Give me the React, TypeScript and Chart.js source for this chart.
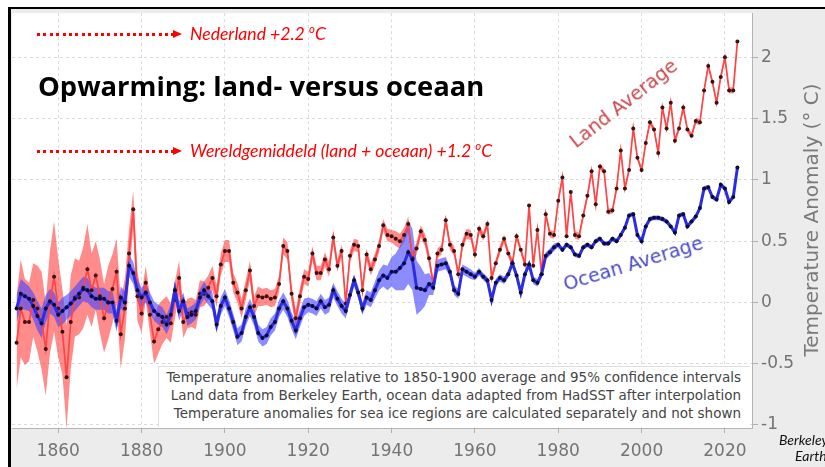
import React, { useEffect, useRef } from "react";
import { Chart, registerables } from "chart.js";

Chart.register(...registerables);

const START_YEAR = 1850;

// Land average anomaly (°C, relative to 1850-1900), 1850..2023
const landAverage = [
  -0.33, -0.05, -0.16, -0.16, 0.02, -0.05, -0.15, -0.38, 0.0, 0.21,
  -0.05, -0.24, -0.61, -0.16, 0.04, 0.04, 0.12, 0.27, 0.1, 0.22,
  0.05, -0.13, 0.0, 0.11, 0.25, -0.26, -0.05, 0.4, 0.76, 0.05,
  -0.09, 0.16, -0.1, -0.32, -0.22, -0.16, -0.12, -0.17, 0.02, 0.2,
  -0.16, -0.09, -0.08, -0.1, 0.07, 0.07, 0.12, 0.2, 0.05, 0.31,
  0.42, 0.42, 0.16, 0.08, -0.05, 0.1, 0.26, -0.03, 0.05, 0.04,
  0.05, 0.03, 0.04, 0.15, 0.46, 0.42, 0.07, -0.13, 0.05, 0.21,
  0.19, 0.4, 0.24, 0.24, 0.35, 0.27, 0.53, 0.3, 0.42, -0.01,
  0.38, 0.47, 0.46, 0.1, 0.39, 0.27, 0.35, 0.46, 0.63, 0.55,
  0.54, 0.52, 0.5, 0.55, 0.64, 0.36, 0.44, 0.58, 0.51, 0.36,
  0.15, 0.4, 0.43, 0.67, 0.47, 0.42, 0.23, 0.47, 0.56, 0.55,
  0.39, 0.6, 0.54, 0.64, 0.2, 0.32, 0.43, 0.52, 0.4, 0.32,
  0.54, 0.43, 0.31, 0.79, 0.3, 0.59, 0.23, 0.72, 0.56, 0.55,
  0.83, 1.02, 0.54, 0.9, 0.55, 0.54, 0.71, 0.87, 1.07, 0.8,
  1.11, 1.07, 0.74, 0.75, 0.93, 1.24, 0.93, 1.08, 1.42, 1.18,
  1.08, 1.3, 1.47, 1.41, 1.22, 1.59, 1.42, 1.63, 1.32, 1.42,
  1.59, 1.41, 1.36, 1.48, 1.47, 1.73, 1.93, 1.8, 1.63, 1.84,
  2.0, 1.73, 1.73, 2.13,
];

// Half width of the 95% interval, land
const landUncertainty = [
  0.38, 0.4, 0.35, 0.32, 0.3, 0.35, 0.4, 0.38, 0.42, 0.45,
  0.4, 0.35, 0.42, 0.38, 0.32, 0.3, 0.33, 0.37, 0.3, 0.28,
  0.3, 0.28, 0.3, 0.28, 0.27, 0.28, 0.25, 0.2, 0.15, 0.2,
  0.16, 0.14, 0.15, 0.18, 0.2, 0.18, 0.17, 0.16, 0.15, 0.14,
  0.13, 0.12, 0.12, 0.12, 0.11, 0.1, 0.1, 0.1, 0.09, 0.09,
  0.09, 0.09, 0.08, 0.08, 0.08, 0.08, 0.08, 0.08, 0.08, 0.07,
  0.07, 0.07, 0.07, 0.07, 0.07, 0.07, 0.07, 0.07, 0.07, 0.06,
  0.06, 0.06, 0.06, 0.06, 0.06, 0.06, 0.06, 0.05, 0.05, 0.05,
  0.05, 0.05, 0.05, 0.05, 0.05, 0.05, 0.05, 0.05, 0.05, 0.05,
  0.05, 0.06, 0.06, 0.06, 0.06, 0.05, 0.05, 0.05, 0.05, 0.05,
  0.04, 0.04, 0.04, 0.04, 0.04, 0.04, 0.04, 0.04, 0.04, 0.04,
  0.035, 0.035, 0.035, 0.035, 0.035, 0.035, 0.035, 0.035, 0.035, 0.035,
  0.03, 0.03, 0.03, 0.03, 0.03, 0.03, 0.03, 0.03, 0.03, 0.03,
  0.03, 0.03, 0.03, 0.03, 0.03, 0.03, 0.03, 0.03, 0.03, 0.03,
  0.025, 0.025, 0.025, 0.025, 0.025, 0.025, 0.025, 0.025, 0.025, 0.025,
  0.025, 0.025, 0.025, 0.025, 0.025, 0.025, 0.025, 0.025, 0.025, 0.025,
  0.025, 0.025, 0.025, 0.025, 0.025, 0.025, 0.025, 0.025, 0.025, 0.025,
  0.025, 0.025, 0.025, 0.025,
];

// Ocean average anomaly (°C), 1850..2023
const oceanAverage = [
  -0.05, 0.07, 0.05, 0.03, -0.03, -0.11, -0.17, -0.05, 0.01, -0.02,
  -0.1, -0.07, -0.04, -0.01, 0.03, 0.07, 0.11, 0.1, 0.05, 0.03,
  0.03, 0.03, 0.0, 0.0, -0.15, 0.04, 0.0, 0.3, 0.24, 0.1,
  0.04, 0.08, 0.0, -0.07, -0.1, -0.12, -0.18, -0.1, 0.1, -0.07,
  0.01, -0.12, -0.1, -0.07, 0.04, 0.1, 0.05, 0.01, -0.18, -0.03,
  0.04, -0.05, -0.16, -0.28, -0.25, -0.12, -0.04, -0.12, -0.25, -0.29,
  -0.27, -0.2, -0.16, -0.05, 0.01, -0.05, -0.15, -0.23, -0.13, -0.04,
  -0.02, -0.03, -0.05, 0.01, -0.04, -0.02, 0.1, 0.03, -0.03, -0.07,
  0.06, 0.18, 0.08, -0.05, 0.04, 0.02, 0.1, 0.18, 0.22, 0.2,
  0.25, 0.25, 0.28, 0.32, 0.41, 0.35, 0.12, 0.11, 0.1, 0.15,
  0.12, 0.3, 0.31, 0.32, 0.25, 0.1, 0.07, 0.27, 0.25, 0.23,
  0.21, 0.25, 0.21, 0.18, 0.02, 0.16, 0.2, 0.18, 0.23, 0.32,
  0.22, 0.08, 0.23, 0.31, 0.18, 0.16, 0.23, 0.38, 0.41, 0.45,
  0.47, 0.43, 0.47, 0.45, 0.39, 0.38, 0.45, 0.47, 0.45, 0.5,
  0.52, 0.48, 0.48, 0.52, 0.5, 0.55, 0.61, 0.71, 0.72, 0.55,
  0.5, 0.62, 0.68, 0.69, 0.69, 0.68, 0.66, 0.62, 0.57, 0.71,
  0.72, 0.62, 0.66, 0.7, 0.77, 0.93, 0.94, 0.86, 0.84, 0.96,
  0.93, 0.82, 0.86, 1.1,
];

// Half width of the 95% interval, ocean
const oceanUncertainty = [
  0.11, 0.12, 0.11, 0.1, 0.11, 0.12, 0.12, 0.11, 0.1, 0.1,
  0.1, 0.11, 0.1, 0.1, 0.1, 0.1, 0.1, 0.1, 0.09, 0.09,
  0.09, 0.09, 0.09, 0.09, 0.09, 0.09, 0.09, 0.09, 0.09, 0.09,
  0.08, 0.08, 0.08, 0.08, 0.08, 0.08, 0.08, 0.08, 0.08, 0.08,
  0.07, 0.07, 0.07, 0.07, 0.07, 0.07, 0.07, 0.07, 0.07, 0.07,
  0.07, 0.07, 0.07, 0.07, 0.07, 0.07, 0.07, 0.07, 0.07, 0.07,
  0.07, 0.07, 0.07, 0.07, 0.07, 0.07, 0.07, 0.07, 0.07, 0.07,
  0.06, 0.06, 0.06, 0.06, 0.06, 0.06, 0.06, 0.06, 0.06, 0.06,
  0.05, 0.05, 0.05, 0.05, 0.06, 0.06, 0.07, 0.08, 0.09, 0.1,
  0.12, 0.15, 0.18, 0.22, 0.26, 0.25, 0.22, 0.18, 0.13, 0.09,
  0.06, 0.05, 0.05, 0.05, 0.04, 0.04, 0.04, 0.04, 0.04, 0.04,
  0.03, 0.03, 0.03, 0.03, 0.03, 0.03, 0.03, 0.03, 0.03, 0.03,
  0.03, 0.03, 0.03, 0.03, 0.03, 0.03, 0.03, 0.03, 0.03, 0.03,
  0.02, 0.02, 0.02, 0.02, 0.02, 0.02, 0.02, 0.02, 0.02, 0.02,
  0.02, 0.02, 0.02, 0.02, 0.02, 0.02, 0.02, 0.02, 0.02, 0.02,
  0.02, 0.02, 0.02, 0.02, 0.02, 0.02, 0.02, 0.02, 0.02, 0.02,
  0.02, 0.02, 0.02, 0.02, 0.02, 0.02, 0.02, 0.02, 0.02, 0.02,
  0.02, 0.02, 0.02, 0.02,
];

const xTickYears = [1860, 1880, 1900, 1920, 1940, 1960, 1980, 2000, 2020];
const yTickValues = [-1, -0.5, 0, 0.5, 1, 1.5, 2];

const noteLines = [
  "Temperature anomalies relative to 1850-1900 average and 95% confidence intervals",
  "Land data from Berkeley Earth, ocean data adapted from HadSST after interpolation",
  "Temperature anomalies for sea ice regions are calculated separately and not shown",
];

const years = landAverage.map((_, i) => START_YEAR + i);

const points = (vals: number[]) => vals.map((v, i) => ({ x: years[i], y: v }));
const bandEdge = (vals: number[], unc: number[], sign: number) =>
  vals.map((v, i) => ({ x: years[i], y: v + sign * unc[i] }));

const plotBgPlugin = {
  id: "plotBg",
  beforeDraw(chart: any) {
    const { ctx, chartArea: a } = chart;
    ctx.save();
    ctx.fillStyle = "#ffffff";
    ctx.fillRect(a.left, a.top, a.right - a.left, a.bottom - a.top);
    ctx.restore();
  },
};

const TICK_FONT = { family: "DejaVu Sans", size: 17 };

function ChartCanvas() {
  const ref = useRef<HTMLCanvasElement | null>(null);
  useEffect(() => {
    if (!ref.current) return;
    const chart = new Chart(ref.current, {
      type: "line",
      data: {
        datasets: [
          {
            label: "Ocean Average",
            data: points(oceanAverage),
            borderColor: "#2c2ce0",
            borderWidth: 3,
            pointRadius: 2,
            pointBackgroundColor: "#0c0c38",
            pointBorderWidth: 0,
            fill: false,
          },
          {
            label: "Land Average",
            data: points(landAverage),
            borderColor: "#ff4545",
            borderWidth: 1.7,
            pointRadius: 2,
            pointBackgroundColor: "#3a1212",
            pointBorderWidth: 0,
            fill: false,
          },
          {
            label: "ocean upper",
            data: bandEdge(oceanAverage, oceanUncertainty, 1),
            borderWidth: 0,
            borderColor: "rgba(0,0,0,0)",
            pointRadius: 0,
            fill: 3,
            backgroundColor: "rgba(70,70,255,0.62)",
          },
          {
            label: "ocean lower",
            data: bandEdge(oceanAverage, oceanUncertainty, -1),
            borderWidth: 0,
            borderColor: "rgba(0,0,0,0)",
            pointRadius: 0,
            fill: false,
          },
          {
            label: "land upper",
            data: bandEdge(landAverage, landUncertainty, 1),
            borderWidth: 0,
            borderColor: "rgba(0,0,0,0)",
            pointRadius: 0,
            fill: 5,
            backgroundColor: "rgba(255,55,55,0.58)",
          },
          {
            label: "land lower",
            data: bandEdge(landAverage, landUncertainty, -1),
            borderWidth: 0,
            borderColor: "rgba(0,0,0,0)",
            pointRadius: 0,
            fill: false,
          },
        ],
      },
      options: {
        animation: false,
        responsive: false,
        maintainAspectRatio: false,
        devicePixelRatio: 1,
        layout: { padding: { left: 12, top: 10, right: 0, bottom: 0 } },
        plugins: {
          legend: { display: false },
          tooltip: { enabled: false },
        },
        elements: { line: { tension: 0 } },
        scales: {
          x: {
            type: "linear",
            min: 1848.9,
            max: 2026.5,
            afterBuildTicks: (s: any) => {
              s.ticks = xTickYears.map((v) => ({ value: v }));
            },
            afterFit: (s: any) => {
              s.height = 39;
            },
            ticks: {
              font: TICK_FONT,
              color: "#747474",
              padding: 8,
              maxRotation: 0,
              autoSkip: false,
              callback: (v: any) => String(v),
            },
            grid: {
              color: "#dadada",
              lineWidth: 1,
              tickLength: 5,
              tickColor: "#b0b0b0",
            },
            border: { display: true, color: "#b4b4b4", width: 1, dash: [3, 3] },
          },
          y: {
            type: "linear",
            position: "right",
            min: -1.025,
            max: 2.36,
            afterBuildTicks: (s: any) => {
              s.ticks = yTickValues.map((v) => ({ value: v }));
            },
            afterFit: (s: any) => {
              s.width = 73;
            },
            ticks: {
              font: TICK_FONT,
              color: "#747474",
              padding: 3,
              callback: (v: any) => String(v),
            },
            grid: {
              color: "#dadada",
              lineWidth: 1,
              tickLength: 6,
              tickColor: "#b0b0b0",
            },
            border: { display: true, color: "#b4b4b4", width: 1, dash: [3, 3] },
          },
        },
      },
      plugins: [plotBgPlugin],
    } as any);
    return () => chart.destroy();
  }, []);
  return (
    <canvas
      ref={ref}
      width={825}
      height={467}
      style={{ position: "absolute", left: 0, top: 0, width: 825, height: 467 }}
    />
  );
}

function DottedArrow({ x, y, length }: { x: number; y: number; length: number }) {
  return (
    <>
      <div
        style={{
          position: "absolute",
          left: x,
          top: y - 1.5,
          width: length,
          height: 3,
          background:
            "repeating-linear-gradient(to right, #ff0000 0px, #ff0000 3px, transparent 3px, transparent 6.4px)",
        }}
      />
      <div
        style={{
          position: "absolute",
          left: x + length,
          top: y - 4.5,
          width: 0,
          height: 0,
          borderTop: "4.5px solid transparent",
          borderBottom: "4.5px solid transparent",
          borderLeft: "9px solid #ff0000",
        }}
      />
    </>
  );
}

const annoStyle: React.CSSProperties = {
  position: "absolute",
  color: "#ff0000",
  fontFamily: "Lato, 'Open Sans', sans-serif",
  fontStyle: "italic",
  fontSize: 17.6,
  lineHeight: "22px",
  whiteSpace: "nowrap",
};

const supStyle: React.CSSProperties = { fontSize: "65%", verticalAlign: "7px", lineHeight: 0 };

const sourceStyle: React.CSSProperties = {
  position: "absolute",
  fontFamily: "Lato, sans-serif",
  fontStyle: "italic",
  fontSize: 14,
  lineHeight: "16px",
  color: "#111",
  whiteSpace: "nowrap",
};

export default function App() {
  return (
    <div
      style={{
        position: "fixed",
        left: 0,
        top: 0,
        width: 825,
        height: 467,
        overflow: "hidden",
        background: "#ffffff",
      }}
    >
      {/* grey figure background outside the plot */}
      <div style={{ position: "absolute", left: 11, top: 9, right: 0, bottom: 0, background: "#ececec" }} />
      <ChartCanvas />

      {/* note box */}
      <div
        style={{
          position: "absolute",
          left: 158,
          top: 366,
          width: 592,
          height: 61,
          background: "#ffffff",
          border: "1px solid #dedede",
          borderRight: "none",
          borderBottom: "none",
          boxSizing: "border-box",
        }}
      />
      {noteLines.map((t, i) => (
        <div
          key={i}
          style={{
            position: "absolute",
            right: 825 - 741,
            top: 368 + i * 18,
            fontFamily: "'DejaVu Sans', sans-serif",
            fontSize: 13.5,
            lineHeight: "18px",
            color: "#454545",
            whiteSpace: "nowrap",
          }}
        >
          {t}
        </div>
      ))}

      {/* rotated series labels */}
      <div
        style={{
          position: "absolute",
          left: 623,
          top: 103,
          transform: "translate(-50%, -50%) rotate(-38deg)",
          fontFamily: "'DejaVu Sans', sans-serif",
          fontSize: 19,
          color: "#c9474c",
          whiteSpace: "nowrap",
        }}
      >
        Land Average
      </div>
      <div
        style={{
          position: "absolute",
          left: 633,
          top: 263,
          transform: "translate(-50%, -50%) rotate(-17deg)",
          fontFamily: "'DejaVu Sans', sans-serif",
          fontSize: 19,
          color: "#4848c6",
          whiteSpace: "nowrap",
        }}
      >
        Ocean Average
      </div>

      {/* y-axis title */}
      <div
        style={{
          position: "absolute",
          left: 811,
          top: 220,
          transform: "translate(-50%, -50%) rotate(-90deg)",
          fontFamily: "'DejaVu Sans', sans-serif",
          fontSize: 20,
          color: "#7a7a7a",
          whiteSpace: "nowrap",
        }}
      >
        Temperature Anomaly (° C)
      </div>

      {/* source */}
      <div style={{ ...sourceStyle, left: 779, top: 432 }}>Berkeley</div>
      <div style={{ ...sourceStyle, left: 795, top: 448 }}>Earth</div>

      {/* annotations */}
      <DottedArrow x={37} y={34} length={136} />
      <div style={{ ...annoStyle, left: 190, top: 23 }}>
        Nederland +2.2 <sup style={supStyle}>o</sup>C
      </div>
      <div
        style={{
          position: "absolute",
          left: 38,
          top: 68,
          fontFamily: "'Open Sans', sans-serif",
          fontWeight: 700,
          fontSize: 27.4,
          lineHeight: "36px",
          color: "#000",
          whiteSpace: "nowrap",
        }}
      >
        Opwarming: land- versus oceaan
      </div>
      <DottedArrow x={37} y={151} length={136} />
      <div style={{ ...annoStyle, left: 190, top: 140 }}>
        Wereldgemiddeld (land + oceaan) +1.2 <sup style={supStyle}>o</sup>C
      </div>

      {/* black frame */}
      <div style={{ position: "absolute", left: 8, top: 7, width: 817, height: 2, background: "#000" }} />
      <div style={{ position: "absolute", left: 8, top: 7, width: 3, height: 460, background: "#000" }} />
    </div>
  );
}
